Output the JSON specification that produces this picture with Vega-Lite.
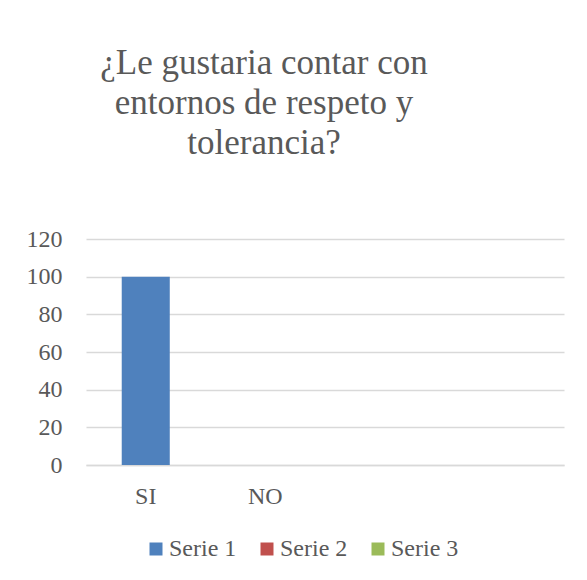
{
  "$schema": "https://vega.github.io/schema/vega-lite/v6.json",
  "width": 478,
  "height": 226,
  "autosize": {"type": "none"},
  "padding": {"left": 86, "top": 239, "right": 23, "bottom": 115},
  "background": "white",
  "title": {
    "text": ["¿Le gustaria contar con", "entornos de respeto y", "tolerancia?"],
    "font": "Liberation Serif",
    "fontSize": 35,
    "lineHeight": 40,
    "fontWeight": "normal",
    "color": "#595959",
    "anchor": "middle",
    "frame": "group",
    "dx": -61,
    "offset": 66
  },
  "data": {
    "values": [
      {"categoria": "SI", "serie": "Serie 1", "valor": 100},
      {"categoria": "SI", "serie": "Serie 2", "valor": 0},
      {"categoria": "SI", "serie": "Serie 3", "valor": 0},
      {"categoria": "NO", "serie": "Serie 1", "valor": 0},
      {"categoria": "NO", "serie": "Serie 2", "valor": 0},
      {"categoria": "NO", "serie": "Serie 3", "valor": 0}
    ]
  },
  "mark": {"type": "bar"},
  "encoding": {
    "x": {
      "field": "categoria",
      "type": "nominal",
      "sort": null,
      "scale": {"domain": ["SI", "NO", " ", "  "], "paddingInner": 0.598, "paddingOuter": 0.299},
      "axis": {
        "title": null,
        "labelAngle": 0,
        "labelFont": "Liberation Serif",
        "labelFontSize": 24,
        "labelColor": "#595959",
        "labelPadding": 19,
        "ticks": false,
        "domain": true,
        "domainColor": "#d9d9d9",
        "domainWidth": 1.3
      }
    },
    "y": {
      "field": "valor",
      "type": "quantitative",
      "stack": "zero",
      "scale": {"domain": [0, 120], "nice": false},
      "axis": {
        "title": null,
        "values": [0, 20, 40, 60, 80, 100, 120],
        "labelFont": "Liberation Serif",
        "labelFontSize": 24,
        "labelColor": "#595959",
        "labelPadding": 24,
        "ticks": false,
        "domain": false,
        "grid": true,
        "gridColor": "#d9d9d9",
        "gridWidth": 1.3
      }
    },
    "color": {
      "field": "serie",
      "type": "nominal",
      "scale": {"domain": ["Serie 1", "Serie 2", "Serie 3"], "range": ["#4f81bd", "#c0504d", "#9bbb59"]},
      "legend": {
        "title": null,
        "orient": "none",
        "legendX": 58,
        "legendY": 298,
        "direction": "horizontal",
        "symbolType": "square",
        "symbolSize": 169,
        "symbolStrokeWidth": 0,
        "labelFont": "Liberation Serif",
        "labelFontSize": 24,
        "labelColor": "#595959",
        "labelOffset": 1,
        "columnPadding": 18
      }
    }
  },
  "config": {
    "view": {"stroke": null}
  }
}
